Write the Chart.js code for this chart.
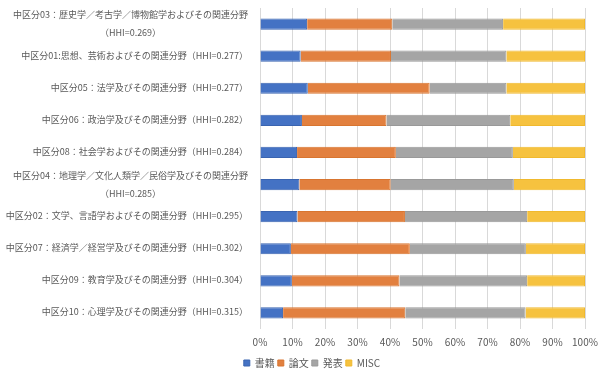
<!DOCTYPE html>
<html>
<head>
<meta charset="utf-8">
<script src="https://cdn.jsdelivr.net/npm/chart.js@4/dist/chart.umd.min.js"></script>
<style>
  body { margin: 0; background: #fff; }
</style>
</head>
<body>
<canvas id="chart" width="600" height="370"></canvas>
<script>
// categories (multi-line ones as arrays)
const categories = [
    ['中区分03：歴史学／考古学／博物館学およびその関連分野', '（HHI=0.269）'],
    '中区分01:思想、芸術およびその関連分野（HHI=0.277）',
    '中区分05：法学及びその関連分野（HHI=0.277）',
    '中区分06：政治学及びその関連分野（HHI=0.282）',
    '中区分08：社会学およびその関連分野（HHI=0.284）',
    ['中区分04：地理学／文化人類学／民俗学及びその関連分野', '（HHI=0.285）'],
    '中区分02：文学、言語学およびその関連分野（HHI=0.295）',
    '中区分07：経済学／経営学及びその関連分野（HHI=0.302）',
    '中区分09：教育学及びその関連分野（HHI=0.304）',
    '中区分10：心理学及びその関連分野（HHI=0.315）'
];
const books    = [14.5, 12.5, 14.7, 12.9, 11.4, 12.1, 11.5, 9.5, 9.8, 7.1];
const papers   = [26.2, 27.8, 37.5, 26.0, 30.4, 28.1, 33.1, 36.6, 33.1, 37.6];
const talks    = [34.1, 35.5, 23.6, 38.1, 36.0, 37.9, 37.6, 35.7, 39.3, 37.0];
const misc     = [25.2, 24.2, 24.2, 23.0, 22.2, 21.9, 17.8, 18.2, 17.8, 18.3];
const xTicks   = [0, 10, 20, 30, 40, 50, 60, 70, 80, 90, 100];

const textColor = '#595959';
const jpFont = '"Noto Sans CJK JP", "Noto Sans", sans-serif';

// draws the category labels: single lines right-aligned, wrapped ones centred on each other
const labelPlugin = {
    id: 'catLabels',
    afterDraw(chart) {
        const ctx = chart.ctx;
        const yScale = chart.scales.y;
        const right = 248;
        ctx.save();
        ctx.font = '9px ' + jpFont;
        ctx.fillStyle = textColor;
        ctx.textBaseline = 'middle';
        categories.forEach((lab, i) => {
            const y = yScale.getPixelForValue(i);
            if (Array.isArray(lab)) {
                const w = Math.max(...lab.map(t => ctx.measureText(t).width));
                const cx = right - w / 2;
                const lh = 18;
                ctx.textAlign = 'center';
                lab.forEach((t, k) => {
                    ctx.fillText(t, cx, y + (k - (lab.length - 1) / 2) * lh);
                });
            } else {
                ctx.textAlign = 'right';
                ctx.fillText(lab, right, y - 1);
            }
        });
        ctx.restore();
    }
};

function ds(label, data, color, border) {
    return {
        label: label,
        data: data,
        backgroundColor: color,
        borderColor: border,
        borderWidth: 1,
        barPercentage: 0.35,
        categoryPercentage: 1.0
    };
}

new Chart(document.getElementById('chart'), {
    type: 'bar',
    data: {
        labels: categories.map(c => Array.isArray(c) ? c.join('') : c),
        datasets: [
            ds('書籍', books, '#4472C4', '#3a64b0'),
            ds('論文', papers, '#E2803F', '#d87530'),
            ds('発表', talks, '#A5A5A5', '#999999'),
            ds('MISC', misc, '#F6C23F', '#f0b92e')
        ]
    },
    options: {
        indexAxis: 'y',
        responsive: false,
        animation: false,
        layout: { padding: { top: 8, right: 0, left: 24, bottom: -8 } },
        scales: {
            x: {
                stacked: true,
                min: 0,
                max: 100,
                afterBuildTicks: axis => { axis.ticks = xTicks.map(v => ({ value: v })); },
                afterFit: axis => { axis.paddingRight = 15; },
                ticks: {
                    callback: v => v + '%',
                    color: textColor,
                    font: { size: 10, family: jpFont },
                    padding: 7,
                    maxRotation: 0
                },
                grid: { color: '#d9d9d9', drawTicks: false },
                border: { display: false }
            },
            y: {
                stacked: true,
                ticks: { display: false },
                grid: { display: false },
                border: { display: false },
                afterFit: scale => { scale.width = 236; }
            }
        },
        plugins: {
            legend: {
                position: 'bottom',
                labels: {
                    boxWidth: 6,
                    boxHeight: 6,
                    padding: 3,
                    color: textColor,
                    font: { size: 10, family: jpFont }
                }
            },
            tooltip: { enabled: false }
        }
    },
    plugins: [labelPlugin]
});
</script>
</body>
</html>
